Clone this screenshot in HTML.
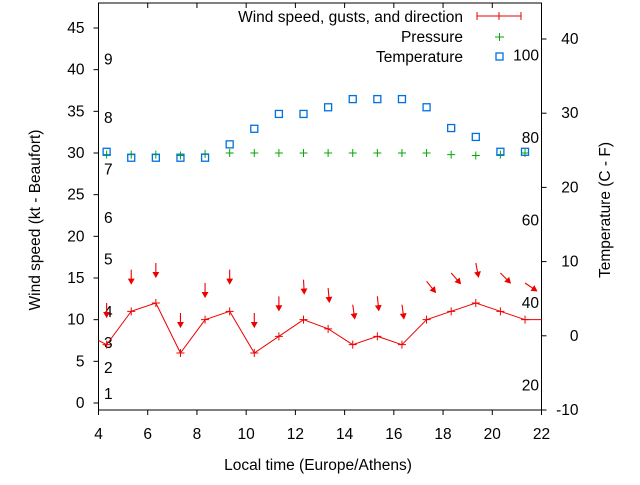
<!DOCTYPE html>
<html><head><meta charset="utf-8"><style>
body{margin:0;background:#fff}
svg{font-family:"Liberation Sans",sans-serif;font-size:15.5px}
</style></head><body>
<svg id="chart" width="640" height="480">
<g id="axes"></g>
<g id="marks"></g>
<text x="318" y="470" text-anchor="middle">Local time (Europe/Athens)</text>
<text transform="translate(40,220) rotate(-90)" text-anchor="middle">Wind speed (kt - Beaufort)</text>
<text transform="translate(610,210) rotate(-90)" text-anchor="middle">Temperature (C - F)</text>
<g>
<text x="463" y="22" text-anchor="end">Wind speed, gusts, and direction</text>
<path d="M477 16H521M477 12V20M521 12V20M499 12V20" stroke="#e00" stroke-width="1"/>
<text x="463" y="42" text-anchor="end">Pressure</text>
<path d="M495 37H504M499.5 33V41" stroke="#0a0"/>
<text x="463" y="62" text-anchor="end">Temperature</text>
<rect x="496" y="53" width="7" height="7" fill="none" stroke="#0070e0" stroke-width="1.3"/>
</g>
</svg>
<script>
const times=[4.33,5.33,6.33,7.33,8.33,9.33,10.33,11.33,12.33,13.33,14.33,15.33,16.33,17.33,18.33,19.33,20.33,21.33];
const windSpeed=[7,11,12,6,10,11,6,8,10,8.9,7,8,7,10,11,12,11,10];
const gusts=[12,16,16.8,10.8,14.4,16,10.8,12.8,14.8,13.8,11.8,12.8,11.8,14.6,15.6,16.8,15.6,14.4];
const windDir=[0,0,0,0,0,0,0,0,357,355,352,354,352,321,319,349,315,304];
const pressure=[29.8,29.8,29.8,29.7,29.9,30,30,30,30,30,30,30,30,30,29.8,29.7,29.8,30];
const tempC=[24.8,24,24,24,24,25.8,27.9,29.9,29.9,30.8,31.9,31.9,31.9,30.8,28,26.8,24.8,24.8];
const xTicks=[4,6,8,10,12,14,16,18,20,22];
const leftTicks=[0,5,10,15,20,25,30,35,40,45];
const rightTicks=[-10,0,10,20,30,40];
const beaufort=[[1,1.1],[2,4.2],[3,7.2],[4,10.9],[5,17.2],[6,22.2],[7,28.0],[8,34.2],[9,41.2]];
const fahrenheit=[20,40,60,80,100];
const L=98.5,R=541.5,T=3,B=410;
const X=t=>L+(t-4)*(R-L)/18;
const YL=v=>403-v*(375/45);
const YR=c=>B-(c+10)*(371/50);
const NS="http://www.w3.org/2000/svg";
function mk(tag,at,parent,txt){const e=document.createElementNS(NS,tag);for(const k in at)e.setAttribute(k,at[k]);if(txt!==undefined)e.textContent=txt;parent.appendChild(e);return e;}
const ax=document.getElementById('axes'),mg=document.getElementById('marks');
let b=mk('rect',{x:L,y:T,width:R-L,height:B-T,fill:'none',stroke:'#000','stroke-width':1},ax);


xTicks.forEach(t=>{
 let l=mk('path',{d:`M${X(t)} ${B}V${B+5}M${X(t)} ${T}V${T+5}`,stroke:'#000'},ax);
 
 
 let s=mk('text',{x:X(t),y:B+29,'text-anchor':'middle'},ax,t);
 
 
});
leftTicks.forEach(v=>{
 let l=mk('path',{d:`M${L-5} ${YL(v)}H${L}`,stroke:'#000'},ax);
 
 
 let s=mk('text',{x:L-14,y:YL(v)+5,'text-anchor':'end'},ax,v);
 
 
});
rightTicks.forEach(v=>{
 let l=mk('path',{d:`M${R} ${YR(v)}H${R+5}`,stroke:'#000'},ax);
 
 
 let s=mk('text',{x:R+37,y:YR(v)+5,'text-anchor':'end'},ax,v);
 
 
});
beaufort.forEach(([n,v])=>{
 let s=mk('text',{x:104,y:YL(v)+5},ax,n);
 
 
});
fahrenheit.forEach(f=>{
 const c=(f-32)*5/9;
 let s=mk('text',{x:539,y:YR(c)+5,'text-anchor':'end'},ax,f);
 
 
});
let pts=times.map((t,i)=>`${X(t)},${YL(windSpeed[i])}`);
let line=mk('polyline',{points:`${L},${YL(windSpeed[0]+0.5)} `+pts.join(' ')+` ${R},${YL(windSpeed[windSpeed.length-1])}`,fill:'none',stroke:'#e00','stroke-width':1},mg);


times.forEach((t,i)=>{
 const x=X(t),y=YL(windSpeed[i]);
 let p=mk('path',{d:`M${x-4} ${y}H${x+4}M${x} ${y-4}V${y+4}`,stroke:'#e00'},mg);
 
 
 const gy=YL(gusts[i]),a=windDir[i]*Math.PI/180,len=14;
 const dx=-Math.sin(a)*len,dy=Math.cos(a)*len,ex=x+dx,ey=gy+dy;
 const ux=dx/len,uy=dy/len;
 let g=mk('path',{d:`M${x} ${gy}L${ex} ${ey}M${ex} ${ey}L${ex-ux*4.5-uy*2.5} ${ey-uy*4.5+ux*2.5}L${ex-ux*4.5+uy*2.5} ${ey-uy*4.5-ux*2.5}Z`,stroke:'#e00',fill:'#e00','stroke-width':1.1},mg);
 
 
 const py=YL(pressure[i]);
 let q=mk('path',{d:`M${x-4} ${py}H${x+4}M${x} ${py-4}V${py+4}`,stroke:'#0a0'},mg);
 
 
 const ty=YR(tempC[i]);
 let r=mk('rect',{x:x-3.5,y:ty-3.5,width:7,height:7,fill:'none',stroke:'#0070e0','stroke-width':1.3},mg);
 
 
});
</script>
</body></html>
